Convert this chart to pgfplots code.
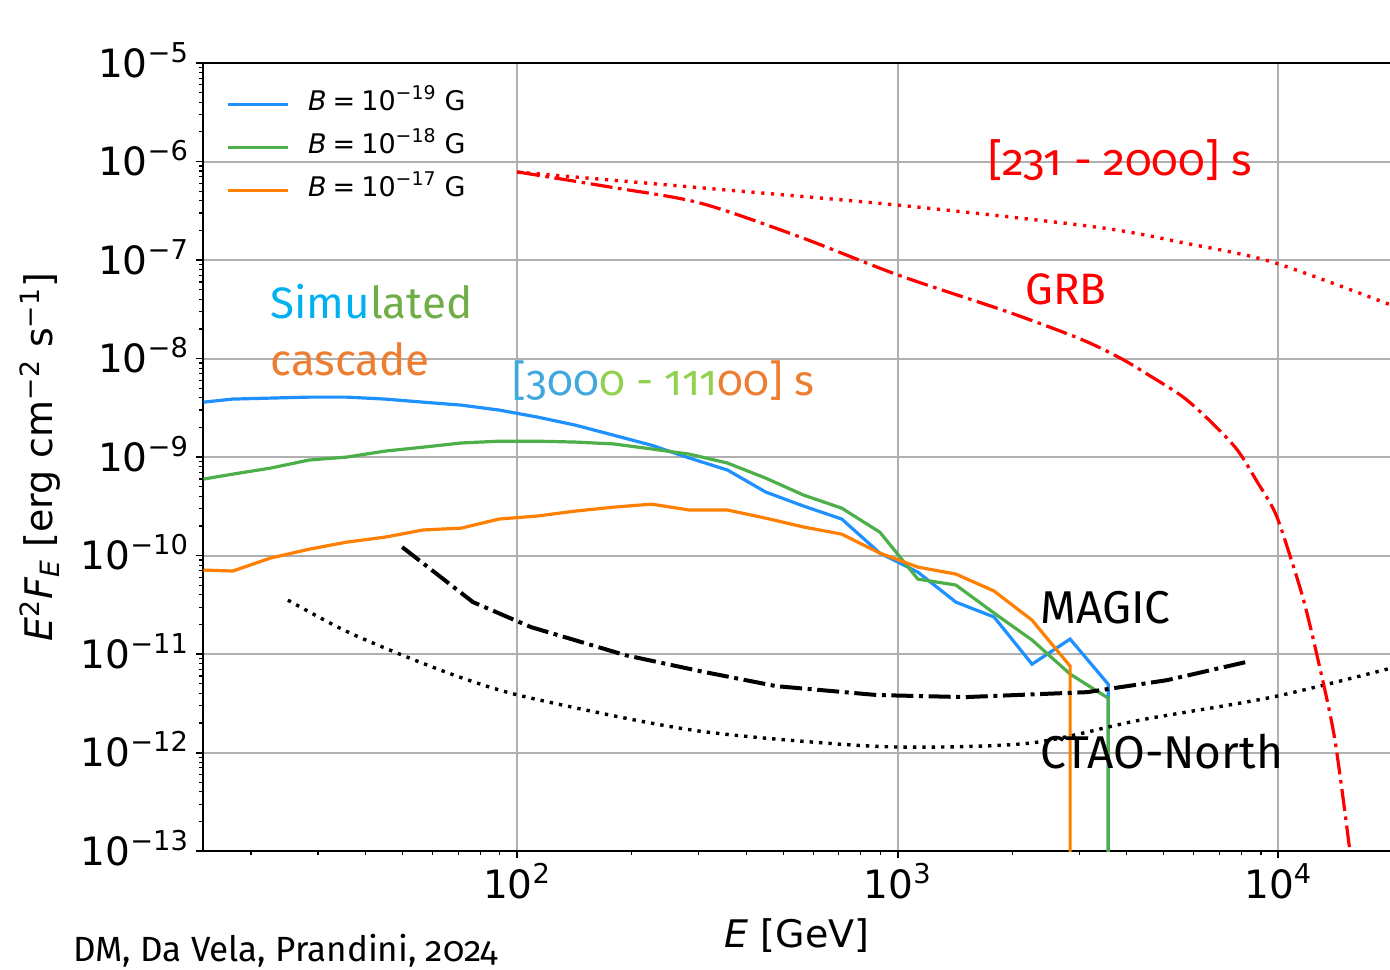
\documentclass[border=0pt]{standalone}
\usepackage{fontspec}
\setmainfont{DejaVu Sans}
\newfontfamily\cand[Numbers=OldStyle]{Fira Sans}
\usepackage{pgfplots}
\pgfplotsset{compat=1.18}
\definecolor{cblue}{RGB}{30,144,255}
\definecolor{cgreen}{RGB}{77,175,74}
\definecolor{corange}{RGB}{255,127,0}
\definecolor{tcyan}{RGB}{0,176,240}
\definecolor{tgreen}{RGB}{112,173,71}
\definecolor{torange}{RGB}{237,125,49}
\definecolor{tblue}{RGB}{65,168,221}
\definecolor{tlgreen}{RGB}{146,208,80}
\definecolor{gridgray}{RGB}{176,176,176}
\begin{document}
\begin{tikzpicture}
\begin{axis}[
  scale only axis, width=594pt, height=394pt,
  xmode=log, ymode=log,
  xmin=14.96, xmax=19800, ymin=1e-13, ymax=1e-5,
  xtick={100,1000,10000},
  xticklabels={10\textsuperscript{2},10\textsuperscript{3},10\textsuperscript{4}},
  ytick={1e-13,1e-12,1e-11,1e-10,1e-9,1e-8,1e-7,1e-6,1e-5},
  yticklabels={10\textsuperscript{−13},10\textsuperscript{−12},10\textsuperscript{−11},10\textsuperscript{−10},10\textsuperscript{−9},10\textsuperscript{−8},10\textsuperscript{−7},10\textsuperscript{−6},10\textsuperscript{−5}},
  minor xtick={20,30,40,50,60,70,80,90,200,300,400,500,600,700,800,900,2000,3000,4000,5000,6000,7000,8000,9000},
  minor ytick={2e-13,3e-13,4e-13,5e-13,6e-13,7e-13,8e-13,9e-13,2e-12,3e-12,4e-12,5e-12,6e-12,7e-12,8e-12,9e-12,2e-11,3e-11,4e-11,5e-11,6e-11,7e-11,8e-11,9e-11,2e-10,3e-10,4e-10,5e-10,6e-10,7e-10,8e-10,9e-10,2e-9,3e-9,4e-9,5e-9,6e-9,7e-9,8e-9,9e-9,2e-8,3e-8,4e-8,5e-8,6e-8,7e-8,8e-8,9e-8,2e-7,3e-7,4e-7,5e-7,6e-7,7e-7,8e-7,9e-7,2e-6,3e-6,4e-6,5e-6,6e-6,7e-6,8e-6,9e-6},
  xmajorgrids, ymajorgrids,
  major grid style={color=gridgray, line width=1pt},
  minor grid style={draw=none},
  tick align=outside, xtick pos=bottom, ytick pos=left,
  major tick length=3.5pt, minor tick length=2pt,
  major tick style={black, line width=0.9pt},
  minor tick style={black, line width=0.6pt},
  axis line style={line width=1pt},
  ticklabel style={font=\fontsize{19.5}{22}\selectfont},
  yticklabel style={anchor=base east, yshift=-7.1pt},
  xticklabel style={anchor=base, yshift=-20pt},
  xlabel={{\itshape E} [GeV]},
  ylabel={{\itshape E}\textsuperscript{2}{\itshape F}\textsubscript{\itshape E} [erg cm\textsuperscript{−2} s\textsuperscript{−1}]},
  label style={font=\fontsize{19}{22}\selectfont},
  xlabel style={at={(axis description cs:0.5,-0.1066)}, anchor=center},
  ylabel style={at={(axis description cs:-0.1372,0.5)}, anchor=center},
  legend style={draw=none, fill=none, at={(rel axis cs:0.019,0.975)}, anchor=north west,
    font=\fontsize{13.5}{16}\selectfont, inner sep=0pt, row sep=0pt,
    nodes={inner sep=1.5pt, text height=12pt, text depth=6.5pt},
    /tikz/every odd column/.append style={column sep=8pt}},
  legend cell align=left,
  legend image code/.code={\draw[#1] (0pt,0pt) -- (30pt,0pt);},
]
\addplot[cblue, line width=1.6pt] coordinates {
(15,3.61e-9) (17.9,3.88e-9) (22.5,3.97e-9) (28.4,4.06e-9) (35.7,4.06e-9) (45.0,3.88e-9) (56.6,3.61e-9) (71.3,3.37e-9) (89.7,3.00e-9) (113.0,2.55e-9) (142.2,2.11e-9) (179.1,1.67e-9) (225.4,1.32e-9) (283.8,9.77e-10) (357.3,7.38e-10) (449.8,4.42e-10) (566.2,3.18e-10) (712.9,2.35e-10) (897.5,1.06e-10) (1130,6.79e-11) (1422,3.37e-11) (1791,2.38e-11) (2254,7.91e-12) (2838,1.42e-11) (3573,4.95e-12) (3573,1e-14)};
\addlegendentry{{\itshape B}\hspace{3pt}=\hspace{3pt}10\textsuperscript{−19}\hspace{4pt}G}
\addplot[cgreen, line width=1.6pt] coordinates {
(15,5.98e-10) (17.9,6.71e-10) (22.5,7.73e-10) (28.4,9.33e-10) (35.7,1.00e-9) (45.0,1.15e-9) (56.6,1.26e-9) (71.3,1.39e-9) (89.7,1.45e-9) (113.0,1.45e-9) (142.2,1.42e-9) (179.1,1.36e-9) (225.4,1.21e-9) (283.8,1.07e-9) (357.3,8.69e-10) (449.8,6.12e-10) (566.2,4.11e-10) (712.9,3.03e-10) (897.5,1.73e-10) (1130,5.77e-11) (1422,5.02e-11) (1791,2.61e-11) (2254,1.39e-11) (2838,6.27e-12) (3573,3.57e-12) (3573,1e-14)};
\addlegendentry{{\itshape B}\hspace{3pt}=\hspace{3pt}10\textsuperscript{−18}\hspace{4pt}G}
\addplot[corange, line width=1.6pt] coordinates {
(15,7.13e-11) (17.9,6.97e-11) (22.5,9.44e-11) (28.4,1.16e-10) (35.7,1.37e-10) (45.0,1.54e-10) (56.6,1.82e-10) (71.3,1.90e-10) (89.7,2.35e-10) (113.0,2.52e-10) (142.2,2.83e-10) (179.1,3.10e-10) (225.4,3.33e-10) (283.8,2.90e-10) (357.3,2.90e-10) (449.8,2.40e-10) (566.2,1.95e-10) (712.9,1.65e-10) (897.5,1.06e-10) (1130,7.64e-11) (1422,6.49e-11) (1791,4.37e-11) (2254,2.21e-11) (2838,7.55e-12) (2838,1e-14)};
\addlegendentry{{\itshape B}\hspace{3pt}=\hspace{3pt}10\textsuperscript{−17}\hspace{4pt}G}
% MAGIC sensitivity
\addplot[black, line width=2pt, dash pattern=on 11pt off 2.8pt on 2pt off 2.8pt, forget plot] coordinates {
(49.9,1.22e-10) (76.6,3.37e-11) (108.8,1.88e-11) (192.3,9.77e-12) (302.7,6.71e-12) (479.4,4.73e-12) (883,3.84e-12) (1503,3.66e-12) (3148,4.11e-12) (5105,5.44e-12) (8433,8.49e-12)};
% CTAO-North sensitivity
\addplot[black, line width=1.7pt, dash pattern=on 1.7pt off 3pt, smooth, forget plot] coordinates {
(25.0,3.53e-11) (35.1,1.75e-11) (49.9,9.77e-12) (70.8,5.83e-12) (100.6,3.84e-12) (192.3,2.24e-12) (302.7,1.65e-12) (515,1.34e-12) (1002,1.14e-12) (2229,1.25e-12) (4335,2.14e-12) (9638,3.66e-12) (19800,7.21e-12)};
% GRB intrinsic
\addplot[red, line width=1.7pt, dash pattern=on 1.6pt off 3.3pt, smooth, forget plot] coordinates {
(100,7.82e-7) (309.6,5.38e-7) (1002,3.61e-7) (3327,2.16e-7) (5662,1.49e-7) (9638,9.55e-8) (19800,3.49e-8)};
% GRB absorbed
\addplot[red, line width=1.6pt, dash pattern=on 11pt off 2.8pt on 1.8pt off 2.8pt, smooth, forget plot] coordinates {
(100.6,7.82e-7) (175.4,5.51e-7) (302.7,3.79e-7) (554.7,1.71e-7) (1002,7.05e-8) (1950,2.97e-8) (3020,1.58e-8) (3846,1.01e-8) (4613,6.64e-9) (5627,4.06e-9) (6708,2.21e-9) (7805,1.18e-9) (8810,5.57e-10) (9820,2.70e-10) (10760,9.66e-11) (11650,3.53e-11) (12600,1.02e-11) (14040,1.44e-12) (15370,1.10e-13)};
% annotations
\node[anchor=base west, inner sep=0pt, font=\cand\fontsize{22}{26}\selectfont] at (rel axis cs:0.0564,0.6764) {\textcolor{tcyan}{Simu}\textcolor{tgreen}{lated}};
\node[anchor=base west, inner sep=0pt, font=\cand\fontsize{22}{26}\selectfont, torange] at (rel axis cs:0.0564,0.6041) {cascade};
\node[anchor=base west, inner sep=0pt, font=\cand\fontsize{21.3}{26}\selectfont] at (rel axis cs:0.2601,0.5787) {\textcolor{tblue}{[300}\textcolor{tlgreen}{0 - 111}\textcolor{torange}{00] s}};
\node[anchor=base west, inner sep=0pt, font=\cand\fontsize{22}{26}\selectfont, red] at (rel axis cs:0.6608,0.8579) {[231 - 2000] s};
\node[anchor=base west, inner sep=0pt, font=\cand\fontsize{22}{26}\selectfont, red] at (rel axis cs:0.6919,0.6942) {GRB};
\node[anchor=base west, inner sep=0pt, font=\cand\fontsize{23}{27}\selectfont] at (rel axis cs:0.7045,0.2893) {MAGIC};
\node[anchor=base west, inner sep=0pt, font=\cand\fontsize{23}{27}\selectfont] at (rel axis cs:0.7045,0.1053) {CTAO-North};
\end{axis}
\node[anchor=base west, inner sep=0pt, font=\cand\fontsize{17.5}{21}\selectfont] at ([shift={(-65pt,-55.3pt)}]current axis.south west) {DM, Da Vela, Prandini, 2024};
\pgfresetboundingbox
\path[use as bounding box] ([shift={(-101.5pt,-59pt)}]current axis.south west) rectangle ([shift={(-0.6pt,31.5pt)}]current axis.north east);
\end{tikzpicture}
\end{document}
